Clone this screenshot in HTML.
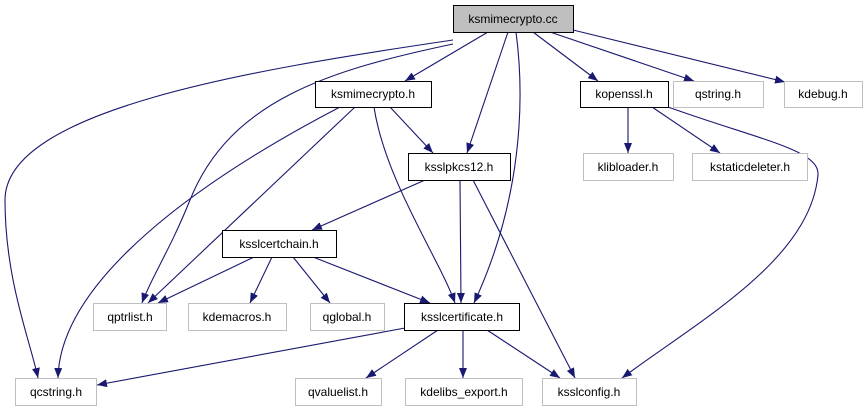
<!DOCTYPE html>
<html><head><meta charset="utf-8"><style>
body{margin:0;background:#fff;}
svg{display:block;font-family:"Liberation Sans",sans-serif;}
text{font-size:12px;text-anchor:middle;fill:#000;}
</style></head><body>
<svg width="867" height="411" viewBox="0 0 867 411" xmlns="http://www.w3.org/2000/svg">
<defs><marker id="a" markerWidth="10" markerHeight="8" refX="10" refY="4" orient="auto" markerUnits="userSpaceOnUse"><path d="M0,0 L10,4 L0,8 z" fill="#191970"/></marker></defs>
<g fill="none" stroke="#191970" stroke-width="1.1" marker-end="url(#a)">
<path d="M453,40 C250,70 5,110 5,200 C5,280 30,340 38,378"/>
<path d="M453,44 C330,70 230,100 190,200 C170,250 150,280 142,303"/>
<path d="M488,32 L405,81"/>
<path d="M508,32 L467,153"/>
<path d="M516,32 C525,100 522,200 474,303"/>
<path d="M533,32 L598,81"/>
<path d="M550,32 L694,81"/>
<path d="M573,30 L785,82"/>
<path d="M390,107 L433,153"/>
<path d="M355,107 L148,303"/>
<path d="M340,107 C200,180 60,280 58,378"/>
<path d="M374,107 C385,180 440,260 455,303"/>
<path d="M425,180 L312,230"/>
<path d="M460,180 L461,303"/>
<path d="M473,180 L575,378"/>
<path d="M628,107 L628,153"/>
<path d="M652,107 L720,153"/>
<path d="M668,107 C760,140 820,150 818,175 C810,260 700,320 622,378"/>
<path d="M254,257 L158,303"/>
<path d="M272,257 L250,303"/>
<path d="M293,257 L330,303"/>
<path d="M313,257 L430,303"/>
<path d="M405,328 L97,385"/>
<path d="M438,330 L366,378"/>
<path d="M463,330 L463,378"/>
<path d="M487,330 L560,378"/>
</g>
<g stroke-width="1">
<rect x="453.5" y="5.5" width="120" height="27" fill="#bfbfbf" stroke="#000"/>
<rect x="315.5" y="81.5" width="116" height="26" fill="#fff" stroke="#000"/>
<rect x="580.5" y="81.5" width="88" height="26" fill="#fff" stroke="#000"/>
<rect x="673.5" y="81.5" width="90" height="26" fill="#fff" stroke="#bfbfbf"/>
<rect x="784.5" y="81.5" width="78" height="26" fill="#fff" stroke="#bfbfbf"/>
<rect x="408.5" y="153.5" width="102" height="27" fill="#fff" stroke="#000"/>
<rect x="583.5" y="153.5" width="90" height="27" fill="#fff" stroke="#bfbfbf"/>
<rect x="692.5" y="153.5" width="115" height="27" fill="#fff" stroke="#bfbfbf"/>
<rect x="222.5" y="230.5" width="114" height="27" fill="#fff" stroke="#000"/>
<rect x="93.5" y="303.5" width="73" height="27" fill="#fff" stroke="#bfbfbf"/>
<rect x="188.5" y="303.5" width="98" height="27" fill="#fff" stroke="#bfbfbf"/>
<rect x="310.5" y="303.5" width="74" height="27" fill="#fff" stroke="#bfbfbf"/>
<rect x="404.5" y="303.5" width="115" height="27" fill="#fff" stroke="#000"/>
<rect x="15.5" y="378.5" width="81" height="27" fill="#fff" stroke="#bfbfbf"/>
<rect x="295.5" y="378.5" width="86" height="27" fill="#fff" stroke="#bfbfbf"/>
<rect x="405.5" y="378.5" width="117" height="27" fill="#fff" stroke="#bfbfbf"/>
<rect x="542.5" y="378.5" width="94" height="27" fill="#fff" stroke="#bfbfbf"/>
</g>
<text x="513" y="23">ksmimecrypto.cc</text>
<text x="373" y="98">ksmimecrypto.h</text>
<text x="624" y="98">kopenssl.h</text>
<text x="718" y="98">qstring.h</text>
<text x="823" y="98">kdebug.h</text>
<text x="459" y="171">ksslpkcs12.h</text>
<text x="628" y="171">klibloader.h</text>
<text x="750" y="171">kstaticdeleter.h</text>
<text x="279" y="248">ksslcertchain.h</text>
<text x="130" y="321">qptrlist.h</text>
<text x="237" y="321">kdemacros.h</text>
<text x="347" y="321">qglobal.h</text>
<text x="462" y="321">ksslcertificate.h</text>
<text x="56" y="396">qcstring.h</text>
<text x="338" y="396">qvaluelist.h</text>
<text x="464" y="396">kdelibs_export.h</text>
<text x="589" y="396">ksslconfig.h</text>
</svg>
</body></html>
